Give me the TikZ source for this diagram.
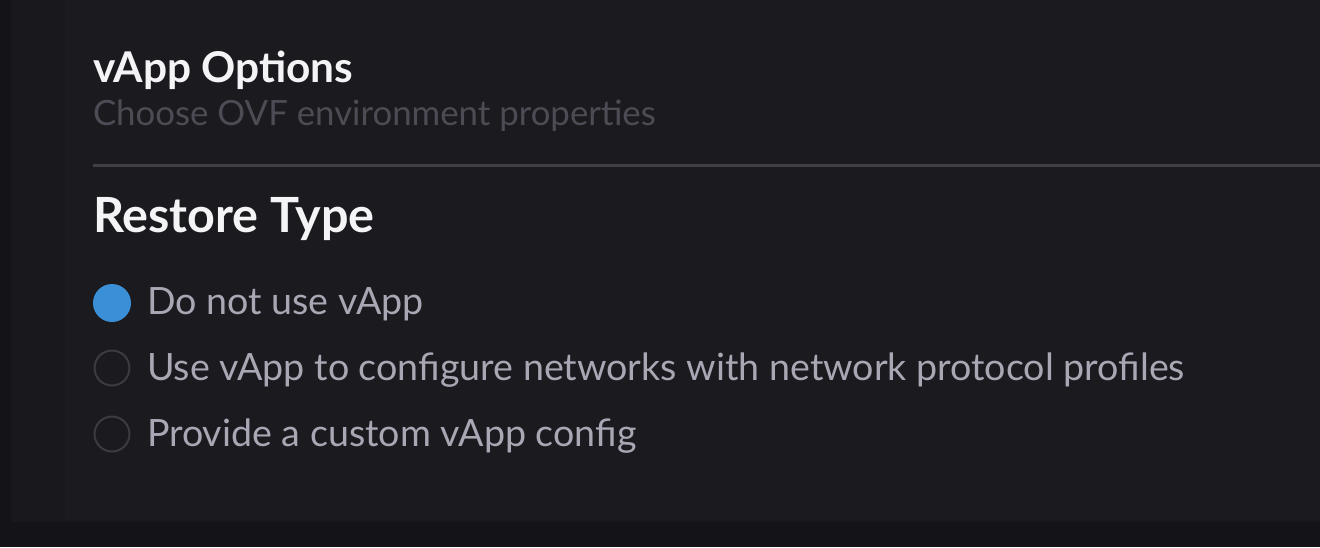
\documentclass[tikz,border=0pt]{standalone}
\usepackage{fontspec}
\setmainfont{Lato}

\definecolor{pageback}{HTML}{141418}
\definecolor{panelback}{HTML}{19181D}
\definecolor{cardback}{HTML}{1B1A1F}
\definecolor{headtext}{HTML}{F4F4F6}
\definecolor{subtext}{HTML}{4D4C55}
\definecolor{opttext}{HTML}{A8A7B3}
\definecolor{radioblue}{HTML}{3A8FD6}
\definecolor{radioring}{HTML}{3B3B41}
\definecolor{rulegrey}{HTML}{3F3F44}

\tikzset{
  txt/.style={anchor=base west, inner sep=0pt, outer sep=0pt},
  radio/.style={circle, minimum size=35pt, inner sep=0pt, draw=radioring, line width=2pt},
  radioon/.style={radio, draw=none, fill=radioblue, minimum size=38pt},
  optlabel/.style={txt, text=opttext, font=\fontsize{37.6}{42}\selectfont}
}

\begin{document}
\begin{tikzpicture}[x=1pt, y=-1pt]
\useasboundingbox (0,0) rectangle (1320,547);
\fill[pageback] (0,0) rectangle (1320,547);
\fill[panelback] (11,0) rectangle (1320,522);
\fill[cardback] (65,0) rectangle (1320,520);

\node[txt, text=headtext, font=\fontsize{42.4}{46}\bfseries\selectfont] (title) at (93,82) {vApp Options};
\node[txt, text=subtext, font=\fontsize{34.8}{38}\selectfont] (subtitle) at (93,125) {Choose OVF environment properties};
\coordinate (rulestart) at (93,165);
\coordinate (ruleend) at (1320,165);
\draw[rulegrey, line width=3pt] (rulestart) -- (ruleend);
\node[txt, text=headtext, font=\fontsize{48.5}{54}\bfseries\selectfont] (restore) at (93,232) {Restore Type};

% radio options
\node[radioon] (r1) at (112,303) {};
\node[radio] (r2) at (112,368) {};
\node[radio] (r3) at (112,434) {};
\node[optlabel] (o1) at (147,314) {Do not use vApp};
\node[optlabel] (o2) at (147,380) {Use vApp to configure networks with network protocol profiles};
\node[optlabel] (o3) at (147,446) {Provide a custom vApp config};
\end{tikzpicture}
\end{document}
